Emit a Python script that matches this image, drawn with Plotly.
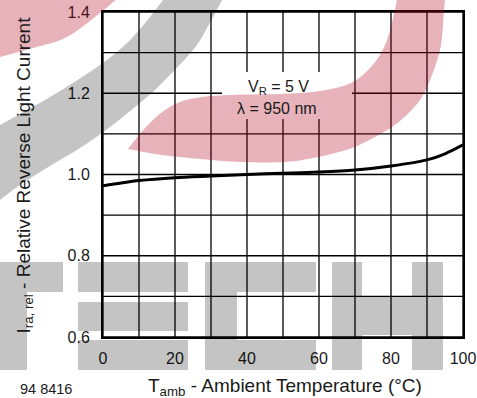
import plotly.graph_objects as go

# Relative reverse light current vs. ambient temperature
temp_c = [0, 5, 10, 20, 30, 40, 50, 60, 70, 80, 90, 95, 100]
i_rel = [0.972, 0.979, 0.985, 0.992, 0.996, 1.000, 1.003, 1.006, 1.011, 1.021, 1.036, 1.051, 1.073]

# grid every 10 degC / 0.1, labels on every second line
x_grid = [0, 10, 20, 30, 40, 50, 60, 70, 80, 90, 100]
x_labels = ["0", "", "20", "", "40", "", "60", "", "80", "", "100"]
y_grid = [0.6, 0.7, 0.8, 0.9, 1.0, 1.1, 1.2, 1.3, 1.4]
y_labels = ["0.6", "", "0.8", "", "1.0", "", "1.2", "", "1.4"]

W, H = 477, 398
L, R, T, B = 103, 14, 12, 61
PW, PH = W - L - R, H - T - B
FONT = "Liberation Sans, Arial, Helvetica, sans-serif"


def to_paper(p):
    x, y = p
    return ((x - L) / PW, (T + PH - y) / PH)


def smooth(pts):
    """Catmull-Rom through pts, returned as SVG cubic segments (paper coords)."""
    q = [to_paper(p) for p in pts]
    out = []
    for i in range(len(q) - 1):
        p0 = q[i - 1] if i > 0 else q[i]
        p1, p2 = q[i], q[i + 1]
        p3 = q[i + 2] if i + 2 < len(q) else q[i + 1]
        c1 = (p1[0] + (p2[0] - p0[0]) / 6, p1[1] + (p2[1] - p0[1]) / 6)
        c2 = (p2[0] - (p3[0] - p1[0]) / 6, p2[1] - (p3[1] - p1[1]) / 6)
        out.append(f"C{c1[0]:.4f},{c1[1]:.4f} {c2[0]:.4f},{c2[1]:.4f} {p2[0]:.4f},{p2[1]:.4f}")
    return " ".join(out)


def band(edge_a, edge_b):
    a0 = to_paper(edge_a[0])
    b0 = to_paper(edge_b[0])
    return (f"M{a0[0]:.4f},{a0[1]:.4f} " + smooth(edge_a)
            + f" L{b0[0]:.4f},{b0[1]:.4f} " + smooth(edge_b) + " Z")


def poly(pts):
    q = [to_paper(p) for p in pts]
    return "M" + " L".join(f"{x:.4f},{y:.4f}" for x, y in q) + " Z"


GRAY = dict(fillcolor="black", opacity=0.23)
RED = dict(fillcolor="rgb(175,0,25)", opacity=0.3)

shapes = []
# grid lines
for gx in x_grid:
    shapes.append(dict(type="line", xref="x", yref="paper", x0=gx, x1=gx, y0=0, y1=1,
                       layer="between", line=dict(color="black", width=1.3)))
for gy in y_grid:
    shapes.append(dict(type="line", xref="paper", yref="y", x0=0, x1=1, y0=gy, y1=gy,
                       layer="between", line=dict(color="black", width=1.3)))

# white backing behind the condition label
shapes.append(dict(type="rect", xref="paper", yref="paper", layer="above",
                   x0=to_paper((222, 0))[0], x1=to_paper((352, 0))[0],
                   y0=to_paper((0, 119))[1], y1=to_paper((0, 72))[1],
                   fillcolor="white", line_width=0))

# logo watermark: grey swoosh
gray_outer = [(-8, 130), (0, 125), (50, 97), (100, 65), (133, 37), (163, 0), (167, -8)]
gray_inner = [(226, -8), (222, 0), (207, 28), (193, 50), (160, 85), (135, 107),
              (110, 127), (80, 148), (50, 166), (20, 185), (0, 200), (-8, 205)]
shapes.append(dict(type="path", xref="paper", yref="paper", layer="above",
                   path=band(gray_outer, gray_inner), line_width=0, **GRAY))

# logo watermark: grey letters
letters = [
    [(-8, 262), (63, 262), (63, 292), (27, 292), (27, 370), (-8, 370)],
    [(78, 262), (188, 262), (188, 292), (78, 292)],
    [(78, 302), (188, 302), (188, 331), (78, 331)],
    [(78, 340), (188, 340), (188, 370), (78, 370)],
    [(205, 262), (316, 262), (316, 292), (237, 292), (237, 340), (316, 340),
     (316, 370), (205, 370)],
    [(332, 262), (362, 262), (362, 297), (412, 297), (412, 262), (443, 262),
     (443, 370), (412, 370), (412, 335), (362, 335), (362, 370), (332, 370)],
]
for pts in letters:
    shapes.append(dict(type="path", xref="paper", yref="paper", layer="above",
                       path=poly(pts), line_width=0, **GRAY))

# logo watermark: red swooshes
red_corner_top = [(-8, -8), (120, -8)]
red_corner_edge = [(118, -2), (100, 13), (67, 37), (33, 48), (0, 57), (-8, 59)]
shapes.append(dict(type="path", xref="paper", yref="paper", layer="above",
                   path=band(red_corner_top, red_corner_edge), line_width=0, **RED))

red_inner = [(128, 149), (145, 128), (165, 110), (190, 99), (230, 95), (280, 94),
             (320, 91), (353, 82), (375, 62), (387, 40), (395, 10), (398, -8)]
red_outer = [(446, -8), (444, 10), (441, 45), (432, 75), (420, 100), (400, 121),
             (382, 133), (352, 148), (318, 157), (285, 162), (240, 162),
             (212, 160), (162, 155), (128, 149)]
shapes.append(dict(type="path", xref="paper", yref="paper", layer="above",
                   path=band(red_inner, red_outer), line_width=0, **RED))

fig = go.Figure()
fig.add_trace(go.Scatter(x=temp_c, y=i_rel, mode="lines",
                         line=dict(color="black", width=3, shape="spline", smoothing=0.8),
                         hoverinfo="skip", showlegend=False))

axis_common = dict(showline=True, mirror=True, linecolor="black", linewidth=2,
                   showgrid=False, zeroline=False, tickmode="array", ticks="",
                   automargin=False,
                   tickfont=dict(family=FONT, size=16, color="#1a1a1a"))

fig.update_xaxes(range=[0, 100], tickvals=x_grid, ticktext=x_labels,
                 ticklabelstandoff=6, **axis_common)
fig.update_yaxes(range=[0.6, 1.4], tickvals=y_grid, ticktext=y_labels,
                 ticklabelstandoff=8, **axis_common)

annotations = [
    dict(text="V<sub>R</sub> = 5 V", x=to_paper((278.5, 0))[0], y=to_paper((0, 88))[1],
         font=dict(family=FONT, size=16, color="#1a1a1a")),
    dict(text="\u03bb = 950 nm", x=to_paper((277, 0))[0], y=to_paper((0, 108.5))[1],
         font=dict(family=FONT, size=16, color="#1a1a1a")),
    dict(text="T<sub>amb</sub> - Ambient Temperature (\u00b0C)",
         x=to_paper((284.5, 0))[0], y=to_paper((0, 387))[1],
         font=dict(family=FONT, size=19, color="#1a1a1a")),
    dict(text="I<sub>ra, rel</sub> - Relative Reverse Light Current",
         x=to_paper((24.5, 0))[0], y=to_paper((0, 175))[1], textangle=-90,
         font=dict(family=FONT, size=19, color="#1a1a1a")),
    dict(text="94 8416", x=to_paper((46, 0))[0], y=to_paper((0, 389))[1],
         font=dict(family=FONT, size=14.5, color="#1a1a1a")),
]
for a in annotations:
    a.update(xref="paper", yref="paper", showarrow=False,
             xanchor="center", yanchor="middle")

fig.update_layout(width=W, height=H, margin=dict(l=L, r=R, t=T, b=B),
                  paper_bgcolor="white", plot_bgcolor="white",
                  shapes=shapes, annotations=annotations, showlegend=False)

fig.write_html("out.html", include_plotlyjs=True, config={"displayModeBar": False})
